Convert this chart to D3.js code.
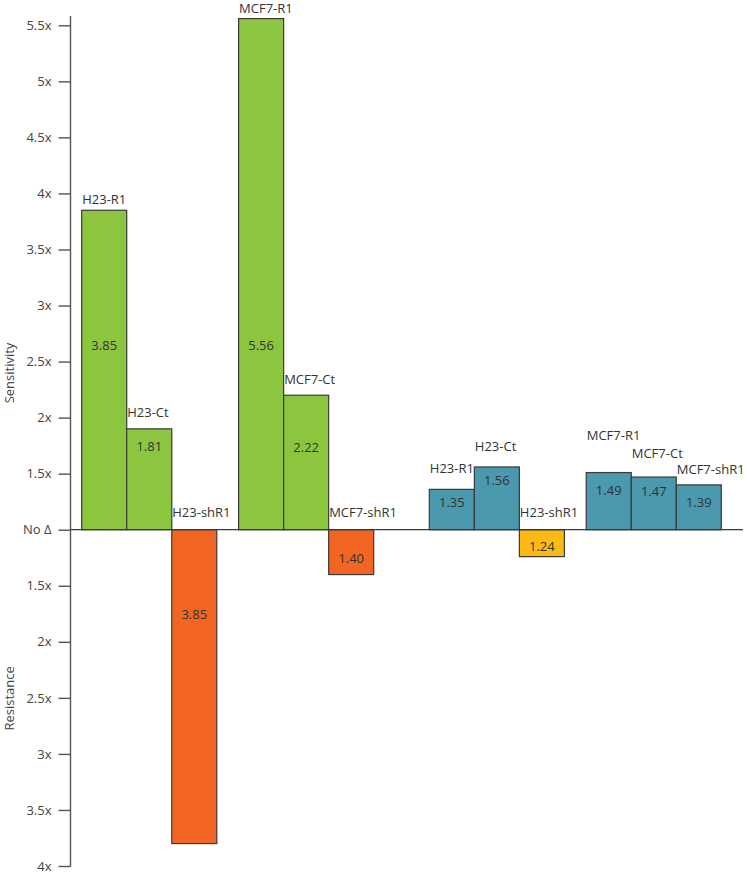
<!DOCTYPE html>
<html>
<head>
<meta charset="utf-8">
<script src="https://cdn.jsdelivr.net/npm/d3@7"></script>
<style>
  html, body { margin: 0; padding: 0; background: #fff; }
  svg { display: block; font-family: "Open Sans", "Noto Sans", sans-serif; }
</style>
</head>
<body>
<svg id="chart" width="747" height="875"></svg>
<script>
// ---------- DATA ----------
const drugs = ["Drug A", "Drug B"];
const cellLines = ["H23", "MCF7"];
const conditions = ["R1", "Ct", "shR1"];

// fold change (as drawn), direction: 1 = sensitivity, -1 = resistance
const drugAFold = [3.85, 1.90, 3.80, 5.56, 2.20, 1.40];
const drugADirection = [1, 1, -1, 1, 1, -1];
const drugAText = ["3.85", "1.81", "3.85", "5.56", "2.22", "1.40"];

const drugBFold = [1.36, 1.56, 1.24, 1.51, 1.47, 1.40];
const drugBDirection = [1, 1, -1, 1, 1, 1];
const drugBText = ["1.35", "1.56", "1.24", "1.49", "1.47", "1.39"];

const tickValues = [-3, -2.5, -2, -1.5, -1, -0.5, 0, 0.5, 1, 1.5, 2, 2.5, 3, 3.5, 4, 4.5];

// ---------- LAYOUT (styling offsets, px) ----------
const catLabelLift = [[11, 16, 17, 10, 16, 17], [21, 20, 17, 37, 24, 15]];
const valueLabelDrop = [[135, 18, 85, 327, 52, 29], [13, 14, 17, 18, 14, 18]];

const colors = {
  "Drug A": { pos: "#8cc63f", neg: "#f26522" },
  "Drug B": { pos: "#4a99ae", neg: "#fdb913" }
};

// ---------- BUILD ----------
const folds = [drugAFold, drugBFold];
const dirs = [drugADirection, drugBDirection];
const texts = [drugAText, drugBText];
const bars = [];
drugs.forEach((drug, di) => {
  cellLines.forEach((cl, ci) => {
    conditions.forEach((cond, ki) => {
      const i = ci * 3 + ki;
      bars.push({
        drug, di, cl, cond, i,
        name: cl + "-" + cond,
        fold: folds[di][i],
        dir: dirs[di][i],
        text: texts[di][i],
        signed: dirs[di][i] * (folds[di][i] - 1)
      });
    });
  });
});

const svg = d3.select("#chart");
const axisX = 70.5;

const y = d3.scaleLinear().domain([-3, 4.5]).range([866, 25.3]);

const xDrug = d3.scaleBand().domain(drugs).range([81.7, 721.3]).paddingInner(0.16).paddingOuter(0);
const xCell = d3.scaleBand().domain(cellLines).range([0, xDrug.bandwidth()]).paddingInner(0.139).paddingOuter(0);
const xCond = d3.scaleBand().domain(conditions).range([0, xCell.bandwidth()]).padding(0);
const barX = d => xDrug(d.drug) + xCell(d.cl) + xCond(d.cond);

// axis
const fmtNum = v => (Math.round(v * 10) / 10).toString() + "x";
const axis = d3.axisLeft(y)
  .tickValues(tickValues)
  .tickSize(12)
  .tickSizeOuter(0)
  .tickPadding(7)
  .tickFormat(v => v === 0 ? "No \u0394" : fmtNum(1 + Math.abs(v)));

const gAxis = svg.append("g").attr("transform", `translate(${axisX},0)`).call(axis);
gAxis.select(".domain").remove();
gAxis.selectAll(".tick line").attr("stroke", "#555").attr("stroke-width", 1.4);
gAxis.selectAll(".tick text").attr("fill", "#444").style("font-size", "13px").style("font-family", "'Open Sans', sans-serif");

svg.append("line")
  .attr("x1", axisX).attr("x2", axisX)
  .attr("y1", 16).attr("y2", y(-3) + 0.7)
  .attr("stroke", "#555").attr("stroke-width", 1.4);

// bars
svg.append("g").selectAll("rect").data(bars).join("rect")
  .attr("x", d => barX(d))
  .attr("width", xCond.bandwidth())
  .attr("y", d => y(Math.max(0, d.signed)))
  .attr("height", d => Math.abs(y(d.signed) - y(0)))
  .attr("fill", d => d.signed >= 0 ? colors[d.drug].pos : colors[d.drug].neg)
  .attr("stroke", "#3a3a3a")
  .attr("stroke-width", 1.2);

// baseline
svg.append("line")
  .attr("x1", axisX).attr("x2", 743)
  .attr("y1", y(0)).attr("y2", y(0))
  .attr("stroke", "#3a3a3a").attr("stroke-width", 1.2);

// category labels
svg.append("g").selectAll("text").data(bars).join("text")
  .attr("x", d => barX(d) + 0.5)
  .attr("y", d => y(Math.max(0, d.signed)) - catLabelLift[d.di][d.i])
  .attr("dy", "0.35em")
  .attr("fill", "#333")
  .style("font-size", "13px")
  .text(d => d.name);

// value labels
svg.append("g").selectAll("text").data(bars).join("text")
  .attr("x", d => barX(d) + xCond.bandwidth() / 2)
  .attr("y", d => y(Math.max(0, d.signed)) + valueLabelDrop[d.di][d.i])
  .attr("dy", "0.35em")
  .attr("text-anchor", "middle")
  .attr("fill", "#333")
  .style("font-size", "13px")
  .text(d => d.text);

// axis titles
svg.append("text")
  .attr("transform", `translate(14,${373}) rotate(-90)`)
  .attr("text-anchor", "middle").attr("fill", "#444")
  .style("font-size", "13px")
  .text("Sensitivity");
svg.append("text")
  .attr("transform", `translate(14,${(y(-1) + y(-2)) / 2 + 0.5}) rotate(-90)`)
  .attr("text-anchor", "middle").attr("fill", "#444")
  .style("font-size", "13px")
  .text("Resistance");
</script>
</body>
</html>
